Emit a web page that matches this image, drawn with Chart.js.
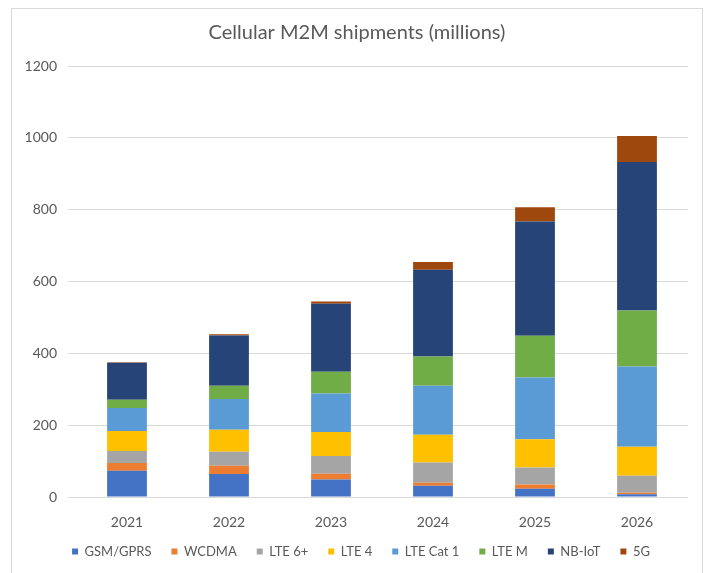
<!DOCTYPE html>
<html>
<head>
<meta charset="utf-8">
<script src="https://cdn.jsdelivr.net/npm/chart.js@4"></script>
<style>
  body { margin: 0; background: #fff; }
  #wrap { position: absolute; left: 0; top: 0; width: 705px; height: 573px; }
  #frame { position: absolute; left: 11px; top: 8px; width: 690px; height: 570px; border: 1px solid #d9d9d9; }
</style>
</head>
<body>
<div id="frame"></div>
<div id="wrap"><canvas id="myChart" width="705" height="573"></canvas></div>
<script>
const years = ["2021", "2022", "2023", "2024", "2025", "2026"]
const yTicks = [0, 200, 400, 600, 800, 1000, 1200]

const gsm    = [73, 64, 49, 31, 23, 8]
const wcdma  = [22, 23, 16, 9, 12, 4]
const lte6   = [33, 39, 49, 56, 47, 47]
const lte4   = [56, 61, 67, 77, 79, 81]
const cat1   = [64, 86, 107, 137, 172, 223]
const lteM   = [23, 37, 61, 81, 116, 156]
const nbiot  = [103, 140, 189, 242, 318, 414]
const fiveG  = [1, 3, 6, 21, 40, 72]

const series = [
  ["GSM/GPRS", gsm, "#4472C4"],
  ["WCDMA", wcdma, "#ED7D31"],
  ["LTE 6+", lte6, "#A5A5A5"],
  ["LTE 4", lte4, "#FFC000"],
  ["LTE Cat 1", cat1, "#5B9BD5"],
  ["LTE M", lteM, "#70AD47"],
  ["NB-IoT", nbiot, "#264478"],
  ["5G", fiveG, "#9E480E"]
]

const grey = "#595959"
const font = "Lato, 'Open Sans', sans-serif"

// the title and legend sit centred on the frame, not on the canvas
const nudge = {
  id: "nudge",
  afterLayout(chart) {
    chart.titleBlock.left += 26
    chart.legend.left += 34
    chart.legend.top -= 4
  }
}

const data = {
  labels: years,
  datasets: series.map(s => ({
    label: s[0],
    data: s[1],
    backgroundColor: s[2],
    borderWidth: 0,
    barPercentage: 0.39,
    categoryPercentage: 1
  }))
}

const config = {
  type: "bar",
  data,
  plugins: [nudge],
  options: {
    responsive: false,
    animation: false,
    layout: { padding: { left: 0, right: 17, top: 10, bottom: 1 } },
    plugins: {
      title: {
        display: true,
        text: "Cellular M2M shipments (millions)",
        color: grey,
        font: { family: font, size: 20, weight: "normal" },
        padding: { top: 11, bottom: 21 }
      },
      legend: {
        position: "bottom",
        labels: {
          color: grey,
          font: { family: font, size: 13 },
          boxWidth: 6,
          boxHeight: 6,
          padding: 20
        }
      },
      tooltip: { enabled: false }
    },
    scales: {
      x: {
        stacked: true,
        afterFit: s => { s.height = 32 },
        grid: { display: false },
        border: { display: false },
        ticks: { color: grey, font: { family: font, size: 14 }, padding: 9 }
      },
      y: {
        stacked: true,
        min: 0,
        max: 1200,
        afterBuildTicks: s => { s.ticks = yTicks.map(v => ({ value: v })) },
        afterFit: s => { s.width = 76 },
        grid: { color: "#d9d9d9" },
        border: { display: false },
        ticks: {
          color: grey,
          font: { family: font, size: 14 },
          padding: 11,
          callback: v => String(v)
        }
      }
    }
  }
}

new Chart(document.getElementById("myChart").getContext("2d"), config)
</script>
</body>
</html>
